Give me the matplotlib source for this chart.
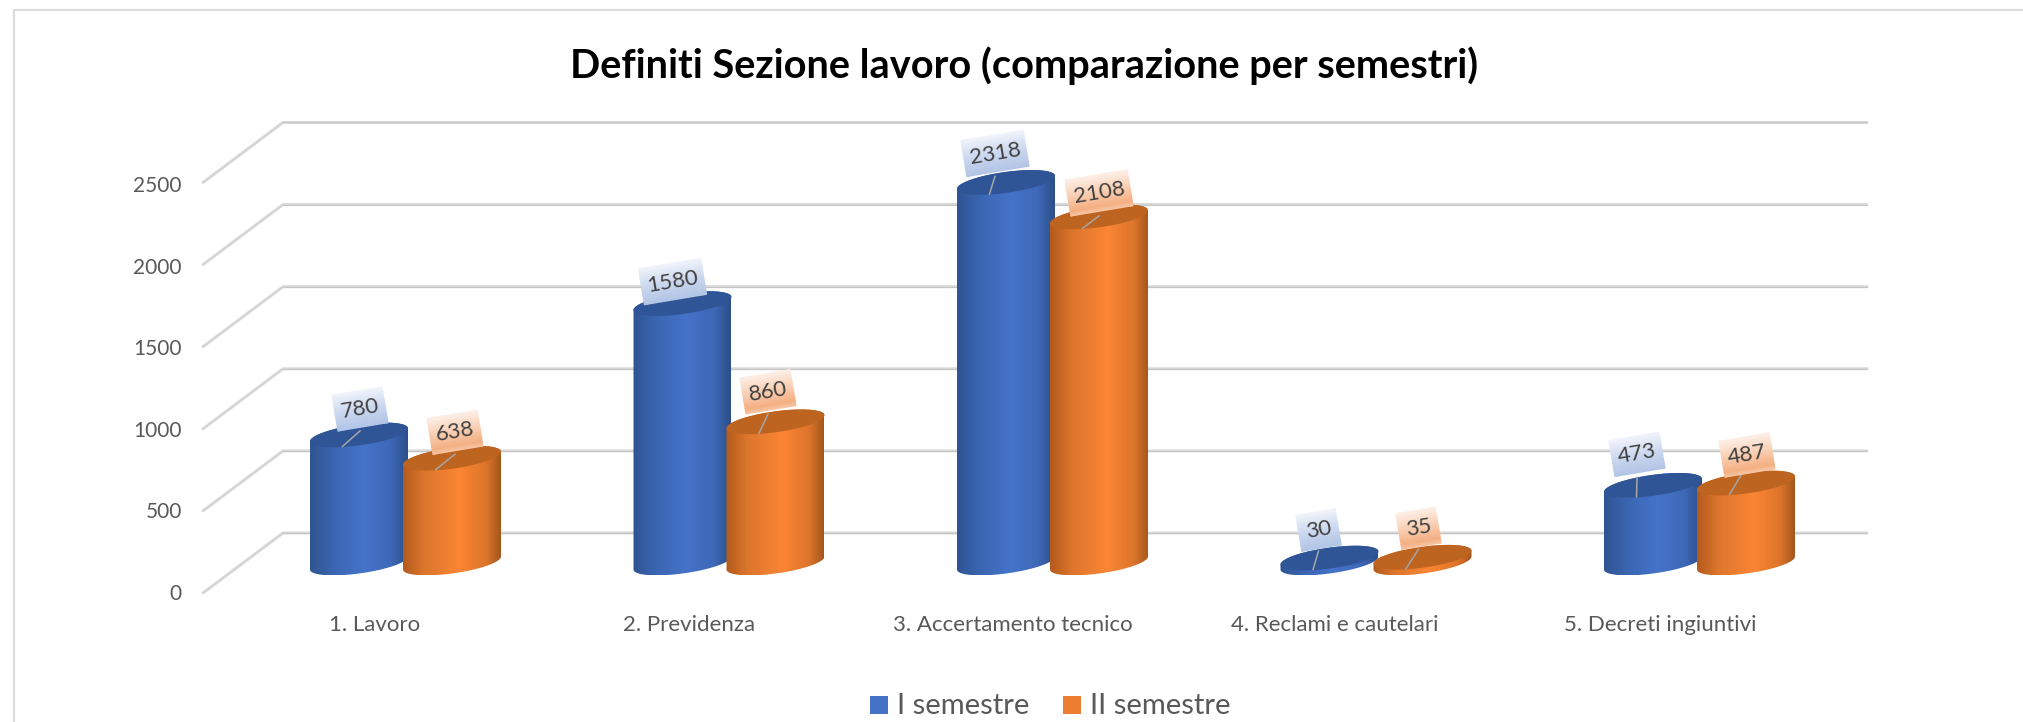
import numpy as np
import matplotlib
matplotlib.use("Agg")
import matplotlib.pyplot as plt
from matplotlib.colors import LinearSegmentedColormap as LSC
from matplotlib.path import Path
from matplotlib.patches import PathPatch, Rectangle

categories = ["1. Lavoro", "2. Previdenza", "3. Accertamento tecnico",
              "4. Reclami e cautelari", "5. Decreti ingiuntivi"]
semestre_1 = [780, 1580, 2318, 30, 473]
semestre_2 = [638, 860, 2108, 35, 487]
y_ticks = [0, 500, 1000, 1500, 2000, 2500]
series_names = ["I semestre", "II semestre"]
title = "Definiti Sezione lavoro (comparazione per semestri)"

# layout (pixels)
W, H = 2023, 722
PX_CAT, X0 = 323.5, 405.5
PX_VAL, Y0 = 0.1642, 533.0
BAR_OFF, A, B, C, BASE = 46.5, 49.0, 10.5, -6.5, 30.0
DEPTH_X, DEPTH_Y = 80, 60
cat_label_px = [375, 689.5, 1013, 1335, 1660]
lab_off_1 = [(1, -26), (-10, -22), (-11, -29), (-11, -28), (-16, -31)]
lab_off_2 = [(3, -26), (-7.5, -30), (0, -24), (-4, -29), (1, -28)]
lead_1 = [(1, -4), None, (-11, -6), (-11, -7), (-16, -8)]
lead_2 = [(3, -4), (-7.5, -8), (0, -1), (-4, -8), (-3, -11)]

plt.rcParams["font.family"] = ["Lato", "DejaVu Sans"]
fig = plt.figure(figsize=(W / 100, H / 100), dpi=100, facecolor="white")
ax = fig.add_axes([0, 0, 1, 1])
ax.axis("off")
xlim = (-X0 / PX_CAT, (W - X0) / PX_CAT)
ylim = ((Y0 - H) / PX_VAL, Y0 / PX_VAL)


def ux(px):
    return (px - X0) / PX_CAT


def uy(py):
    return (Y0 - py) / PX_VAL


def dx(px):
    return px / PX_CAT


def dy(py):
    return -py / PX_VAL


# frame (top and left only)
ax.plot([ux(14), ux(14), ux(W)], [uy(H), uy(10), uy(10)], color="#dcdcdc", lw=1.6, zorder=0)

# grid
for k, v in enumerate(y_ticks):
    xs = [ux(283) - dx(DEPTH_X), ux(283), ux(1867)]
    ys = [v + dy(DEPTH_Y), v, v]
    ax.plot(xs, ys, color="#d6d6d6", lw=2.1, solid_capstyle="round", solid_joinstyle="round", zorder=1)
    ax.plot(xs[1:], ys[1:], color="#c6c6c6", lw=0.7, zorder=1.1)
    ax.text(ux(182), uy(593.5 - 81.4 * k), str(v), ha="right", va="center", fontsize=15, color="#595959")

for i, c in enumerate(categories):
    ax.text(ux(cat_label_px[i]), uy(625), c, ha="center", va="center", fontsize=16, color="#595959")

ax.text(ux(1024), uy(66), title, ha="center", va="center", fontsize=28.6, fontweight="bold", color="#000000")

cm_blue = LSC.from_list("b", [(0, "#2f5492"), (.25, "#3b66b2"), (.55, "#4573c9"), (.82, "#3e69b8"), (1, "#2c4f8a")])
cm_orange = LSC.from_list("o", [(0, "#b35a1c"), (.22, "#dc762d"), (.58, "#fc8533"), (.85, "#dc752b"), (1, "#a4561c")])
cm_lab_b = LSC.from_list("lb", [(0, "#b2c5e6"), (.5, "#ccd9ef"), (1, "#f1f4fb")])
cm_lab_o = LSC.from_list("lo", [(0, "#f8c7a6"), (.1, "#f4ad7f"), (.5, "#f8cdb0"), (1, "#fdf0e8")])
tops = ["#2f5597", "#bd6420"]


def cylinder(xc, v, cmap, top, z):
    t1 = np.linspace(0, np.pi, 60)
    t2 = np.linspace(np.pi, 2 * np.pi, 60)
    base = dy(BASE)
    sx = np.r_[xc + dx(A) * np.cos(t1), xc + dx(A) * np.cos(t2)]
    sy = np.r_[base + dy(B * np.sin(t1) + C * np.cos(t1)),
               v + base + dy(B * np.sin(t2) + C * np.cos(t2))]
    path = Path(np.c_[sx, sy], closed=False)
    patch = PathPatch(path, transform=ax.transData, fc="none", ec="none")
    ax.add_patch(patch)
    grad = np.linspace(0, 1, 256)[None, :]
    im = ax.imshow(grad, cmap=cmap, aspect="auto", interpolation="bilinear",
                   extent=(xc - dx(A), xc + dx(A), sy.min(), sy.max()), zorder=z)
    im.set_clip_path(patch)
    t = np.linspace(0, 2 * np.pi, 120)
    ax.fill(xc + dx(A) * np.cos(t), v + base + dy(B * np.sin(t) + C * np.cos(t)),
            color=top, lw=0, zorder=z + 0.1)


def data_label(xc, v, off, lead, cmap, z, val):
    base = dy(BASE)
    cx = xc + dx(off[0])
    cy = v + base + dy(off[1])
    wpx = 14 + 12.3 * len(str(val)) if len(str(val)) > 2 else 40
    hpx = 36.5
    ang = np.deg2rad(9.5)
    fr = np.linspace(-.5, .5, 9)
    u = np.array([-.5, .5]) * wpx
    UU, VV = np.meshgrid(u, fr * hpx)
    # screen pixels, y down
    PX = UU * np.cos(ang) + VV * np.sin(ang)
    PY = -UU * np.sin(ang) + VV * np.cos(ang)
    CC = np.tile((.5 - fr)[:, None], (1, 2))
    ax.pcolormesh(cx + PX / PX_CAT, cy - PY / PX_VAL, CC, shading="gouraud", cmap=cmap,
                  vmin=0, vmax=1, zorder=z + 0.3)
    if lead is not None:
        ax.plot([xc + dx(lead[0]), xc + dx(-16.5)],
                [v + base + dy(lead[1]), v + base + dy(11.5)],
                color="#a6a6a6", lw=1.1, zorder=z + 0.2)
    ax.text(cx, cy, str(val), rotation=9.5, rotation_mode="anchor", ha="center", va="center",
            fontsize=16, color="#404040", zorder=z + 0.4)


z = 2
for i in range(len(categories)):
    cylinder(i - dx(BAR_OFF), semestre_1[i], cm_blue, tops[0], z)
    cylinder(i + dx(BAR_OFF), semestre_2[i], cm_orange, tops[1], z + 1)
for i in range(len(categories)):
    data_label(i - dx(BAR_OFF), semestre_1[i], lab_off_1[i], lead_1[i], cm_lab_b, 10, semestre_1[i])
    data_label(i + dx(BAR_OFF), semestre_2[i], lab_off_2[i], lead_2[i], cm_lab_o, 11, semestre_2[i])

# legend
for px, col, name, tx in [(870, "#4472C4", series_names[0], 897), (1063, "#ED7D31", series_names[1], 1090)]:
    ax.add_patch(Rectangle((ux(px), uy(714)), dx(18), uy(696) - uy(714), fc=col, ec="none", zorder=5))
    ax.text(ux(tx), uy(706), name, ha="left", va="center", fontsize=21, color="#595959")

ax.set_xlim(*xlim)
ax.set_ylim(*ylim)
fig.savefig("out.png", dpi=100, facecolor="white")
